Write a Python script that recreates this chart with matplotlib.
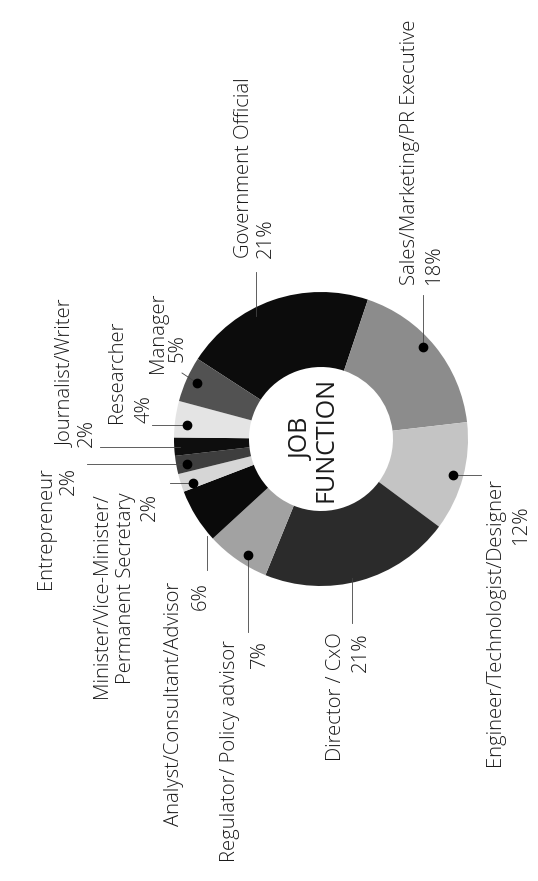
import matplotlib
matplotlib.use("Agg")
import matplotlib.pyplot as plt

# ---- data ----
categories = ["Government Official", "Sales/Marketing/PR Executive",
              "Engineer/Technologist/Designer", "Director / CxO",
              "Regulator/ Policy advisor", "Analyst/Consultant/Advisor",
              "Minister/Vice-Minister/\nPermanent Secretary", "Entrepreneur",
              "Journalist/Writer", "Researcher", "Manager"]
shares = [21, 18, 12, 21, 7, 6, 2, 2, 2, 4, 5]
center_title = "JOB\nFUNCTION"

# ---- styles ----
colors = ["#0c0c0c", "#8c8c8c", "#c4c4c4", "#2b2b2b", "#a2a2a2", "#0a0a0a",
          "#d6d6d6", "#3e3e3e", "#0e0e0e", "#e4e4e4", "#525252"]

W, H = 538, 881
CX, CY = 321, 439
R_OUT, R_IN = 147, 72

# label layout: x centres of each text line, y anchor, alignment
label_layout = [
    dict(xs=[244, 266], y=258, ha="left"),
    dict(xs=[410, 434], y=285, ha="left"),
    dict(xs=[495, 521], y=478, ha="right", pct_y=505),
    dict(xs=[336, 361], y=632, ha="right"),
    dict(xs=[230, 260], y=640, ha="right"),
    dict(xs=[174, 201], y=582, ha="right"),
    dict(xs=[102, 126, 150], y=493, ha="right"),
    dict(xs=[46, 69], y=467, ha="right"),
    dict(xs=[66, 87], y=447, ha="left"),
    dict(xs=[117, 145], y=423, ha="left"),
    dict(xs=[158, 178], y=373, ha="left", pct_y=362),
]
# leader lines: (x0, y0, x1, y1, dot at end?)
leaders = [
    (256, 272, 256, 316, False),
    (423, 295, 423, 347, True),
    (481, 475, 453, 475, True),
    (352, 623, 352, 578, False),
    (248, 632, 248, 555, True),
    (207, 570, 207, 536, False),
    (170, 483, 193, 483, True),
    (87, 464, 187, 464, True),
    (100, 447, 180, 447, False),
    (152, 425, 187, 425, True),
    (182, 373, 197, 383, True),
]

plt.rcParams["font.family"] = ["Open Sans", "DejaVu Sans"]

fig = plt.figure(figsize=(W / 100, H / 100), dpi=100)
ax = fig.add_axes([0, 0, 1, 1])

ax.pie(shares, colors=colors, startangle=-147, counterclock=True,
       radius=R_OUT, center=(CX, CY),
       wedgeprops=dict(width=R_OUT - R_IN, edgecolor="none"))

ax.set_xlim(0, W)
ax.set_ylim(H, 0)
ax.set_aspect("equal")
ax.axis("off")

txt_kw = dict(rotation=90, rotation_mode="anchor", va="center",
              fontsize=14.6, fontweight="light", color="#1a1a1a")

for cat, val, lay in zip(categories, shares, label_layout):
    lines = cat.split("\n")
    pct = f"{val}%"
    for i, line in enumerate(lines):
        ax.text(lay["xs"][i], lay["y"], line, ha=lay["ha"], **txt_kw)
    ax.text(lay["xs"][len(lines)], lay.get("pct_y", lay["y"]), pct,
            ha=lay["ha"], **txt_kw)

for x0, y0, x1, y1, dot in leaders:
    ax.plot([x0, x1], [y0, y1], color="#444444", lw=0.6)
    if dot:
        ax.plot([x1], [y1], "o", color="#000000", markersize=6)

ax.text(314, CY, center_title, rotation=90, rotation_mode="anchor",
        ha="center", va="center", multialignment="center",
        fontsize=18, color="#1a1a1a", linespacing=0.95)

fig.savefig("out.png", dpi=100, facecolor="white")
